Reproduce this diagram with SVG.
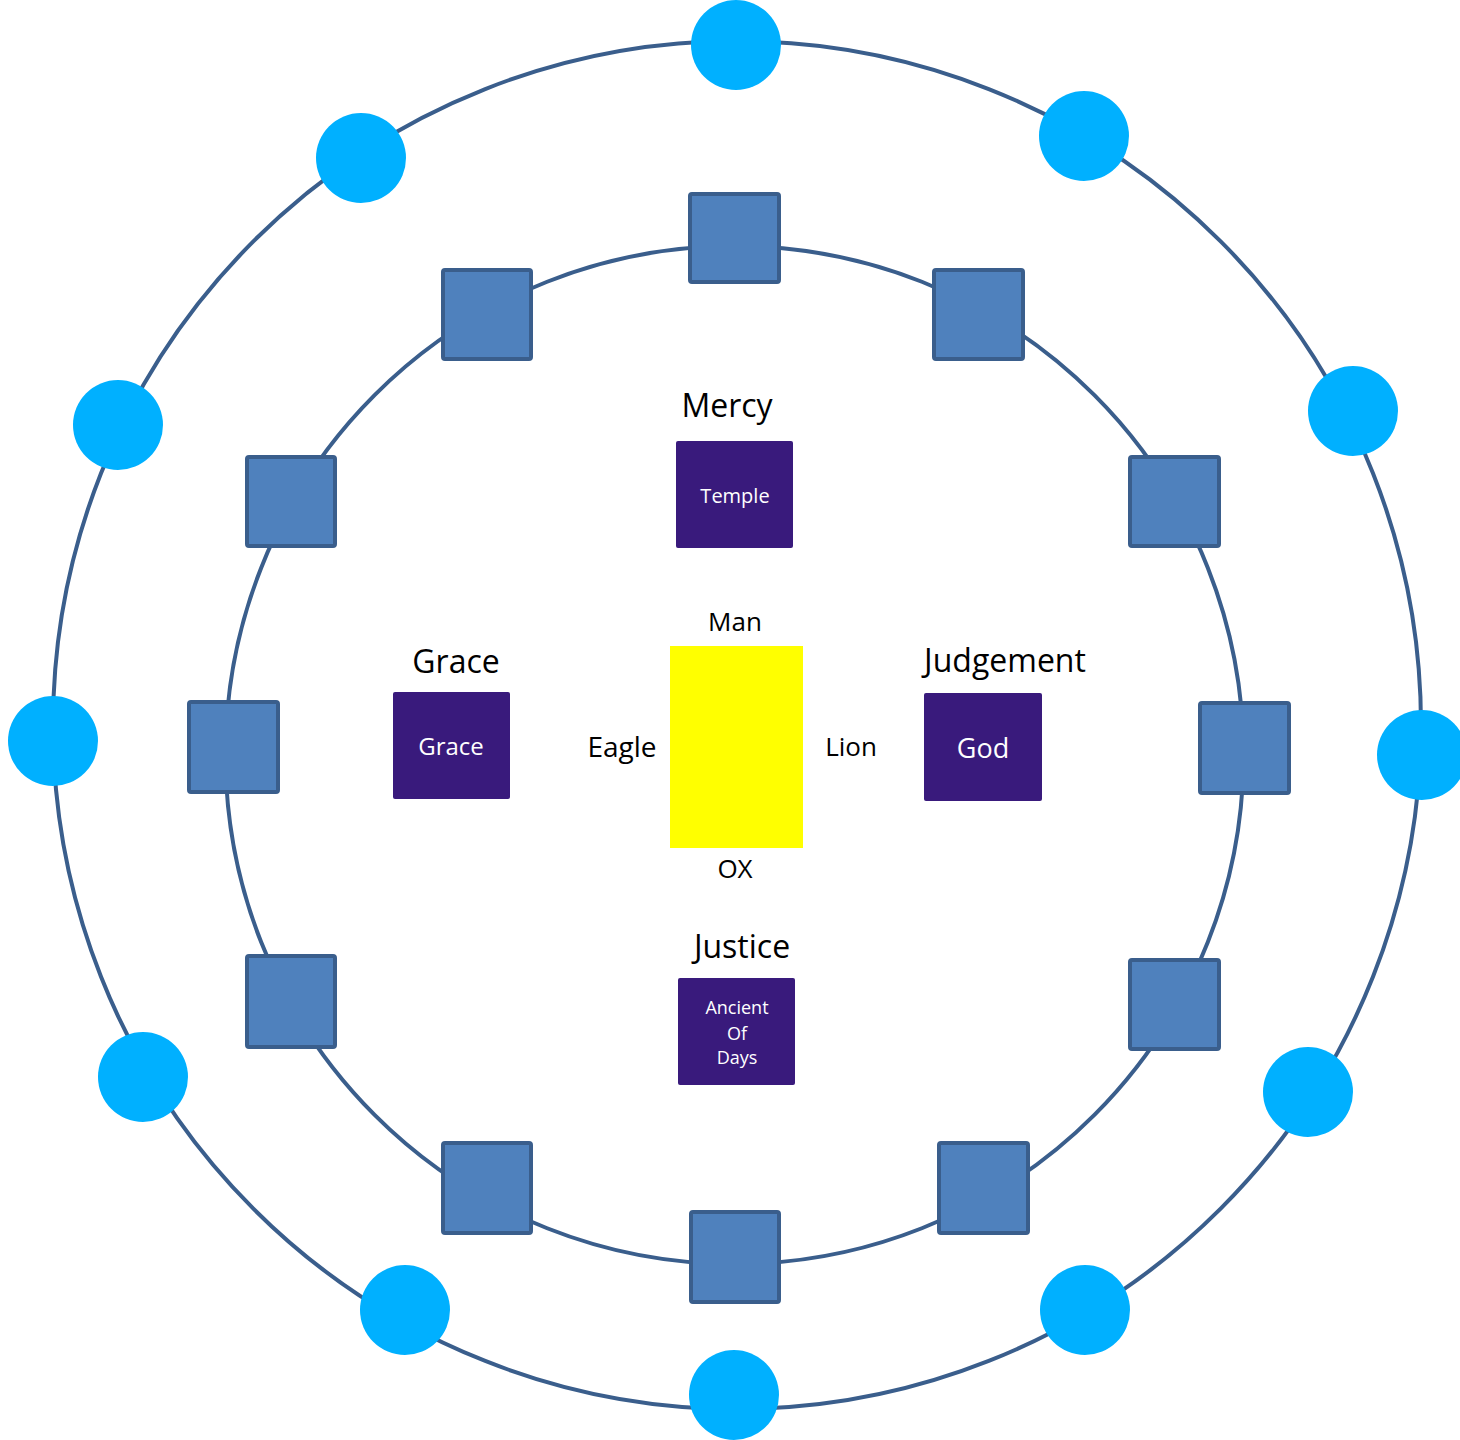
<svg xmlns="http://www.w3.org/2000/svg" width="1460" height="1440" viewBox="0 0 1460 1440">
<style>
.ring{fill:none;stroke:#3A5E8C;stroke-width:4}
.dot{fill:#00B0FF}
.sq{fill:#4F81BD;stroke:#3A5E8C;stroke-width:4}
.pb{fill:#391A7C}
.lbl{font-family:"Open Sans","Noto Sans",sans-serif;fill:#000;text-anchor:middle}
.wt{font-family:"Open Sans","Noto Sans",sans-serif;fill:#fff;text-anchor:middle}
</style>
<rect width="1460" height="1440" fill="#fff"/>
<g id="connectors">
<circle class="ring" cx="737" cy="725" r="684"/>
<circle class="ring" cx="734.5" cy="755" r="509"/>
</g>
<g id="outer-nodes">
<circle id="c1" class="dot" cx="736" cy="45" r="45"/>
<circle id="c2" class="dot" cx="1084" cy="136" r="45"/>
<circle id="c3" class="dot" cx="1353" cy="411" r="45"/>
<circle id="c4" class="dot" cx="1422" cy="755" r="45"/>
<circle id="c5" class="dot" cx="1308" cy="1092" r="45"/>
<circle id="c6" class="dot" cx="1085" cy="1310" r="45"/>
<circle id="c7" class="dot" cx="734" cy="1395" r="45"/>
<circle id="c8" class="dot" cx="405" cy="1310" r="45"/>
<circle id="c9" class="dot" cx="143" cy="1077" r="45"/>
<circle id="c10" class="dot" cx="53" cy="741" r="45"/>
<circle id="c11" class="dot" cx="118" cy="425" r="45"/>
<circle id="c12" class="dot" cx="361" cy="158" r="45"/>
</g>
<g id="inner-nodes">
<rect id="s1" class="sq" x="690" y="194" width="89" height="88" rx="2"/>
<rect id="s2" class="sq" x="934" y="270" width="89" height="89" rx="2"/>
<rect id="s3" class="sq" x="1130" y="457" width="89" height="89" rx="2"/>
<rect id="s4" class="sq" x="1200" y="703" width="89" height="90" rx="2"/>
<rect id="s5" class="sq" x="1130" y="960" width="89" height="89" rx="2"/>
<rect id="s6" class="sq" x="939" y="1143" width="89" height="90" rx="2"/>
<rect id="s7" class="sq" x="691" y="1212" width="88" height="90" rx="2"/>
<rect id="s8" class="sq" x="443" y="1143" width="88" height="90" rx="2"/>
<rect id="s9" class="sq" x="247" y="956" width="88" height="91" rx="2"/>
<rect id="s10" class="sq" x="189" y="702" width="89" height="90" rx="2"/>
<rect id="s11" class="sq" x="247" y="457" width="88" height="89" rx="2"/>
<rect id="s12" class="sq" x="443" y="270" width="88" height="89" rx="2"/>
</g>
<g id="mercy">
<text class="lbl" x="727" y="417" font-size="32">Mercy</text>
<rect class="pb" x="676" y="441" width="117" height="107" rx="2"/>
<text class="wt" x="735" y="503" font-size="20">Temple</text>
</g>
<g id="grace">
<text class="lbl" x="456" y="673" font-size="32">Grace</text>
<rect class="pb" x="393" y="692" width="117" height="107" rx="2"/>
<text class="wt" x="451" y="755" font-size="24">Grace</text>
</g>
<g id="judgement">
<text class="lbl" x="1005" y="672" font-size="32">Judgement</text>
<rect class="pb" x="924" y="693" width="118" height="108" rx="2"/>
<text class="wt" x="983" y="758" font-size="27">God</text>
</g>
<g id="justice">
<text class="lbl" x="742" y="958" font-size="32">Justice</text>
<rect class="pb" x="678" y="978" width="117" height="107" rx="2"/>
<text class="wt" x="737" y="1014" font-size="18">Ancient</text>
<text class="wt" x="737" y="1040" font-size="18">Of</text>
<text class="wt" x="737" y="1064" font-size="18">Days</text>
</g>
<g id="center">
<rect x="670" y="646" width="133" height="202" fill="#FFFF00"/>
<text class="lbl" x="735" y="631" font-size="26">Man</text>
<text class="lbl" x="622" y="757" font-size="28">Eagle</text>
<text class="lbl" x="851" y="756" font-size="26">Lion</text>
<text class="lbl" x="735" y="878" font-size="26">OX</text>
</g>
</svg>
